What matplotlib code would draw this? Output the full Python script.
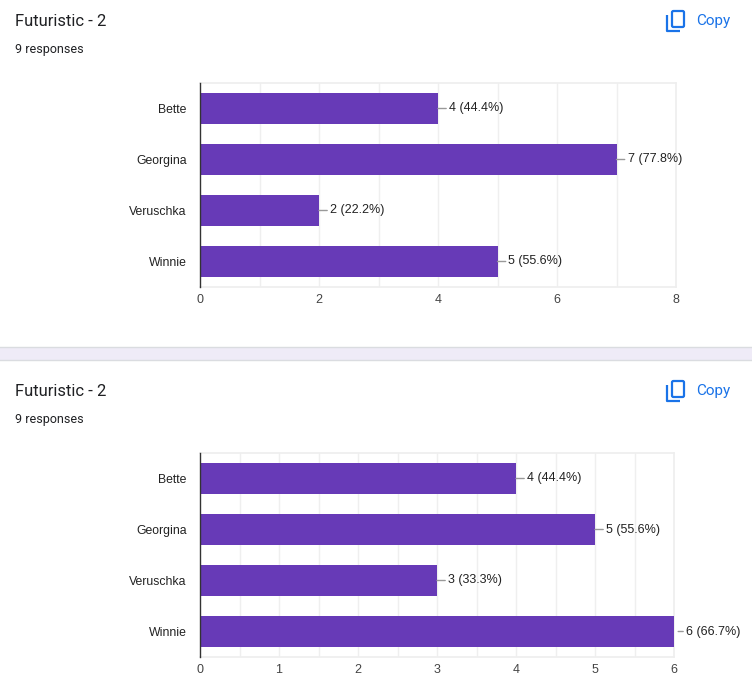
import matplotlib.pyplot as plt
from matplotlib.patches import Rectangle, FancyBboxPatch
from matplotlib.lines import Line2D

# Veriler
categories = ["Bette", "Georgina", "Veruschka", "Winnie"]
counts_top = [4, 7, 2, 5]
counts_bottom = [4, 5, 3, 6]
n_responses = 9
xmax_top = 8
xmax_bottom = 6

W, H = 752, 698
PURPLE = "#673AB7"
BLUE = "#1A73E8"
CHART_FONT = ["Liberation Sans", "DejaVu Sans"]
HEAD_FONT = ["Roboto", "DejaVu Sans"]

fig = plt.figure(figsize=(W / 100, H / 100), dpi=100)


def fx(px):
    return px / W


def fy(py):
    return 1 - py / H


def header(top):
    # başlık, yanıt sayısı ve "Copy" düğmesi
    fig.text(fx(15), fy(top + 22), "Futuristic - 2", fontsize=12, color="#202124",
             family=HEAD_FONT, va="center", ha="left")
    fig.text(fx(15), fy(top + 50), f"{n_responses} responses", fontsize=9, color="#202124",
             family=HEAD_FONT, va="center", ha="left")
    # kopyala ikonu
    fig.add_artist(Line2D([fx(667), fx(667), fx(680)],
                          [fy(top + 15), fy(top + 31), fy(top + 31)],
                          color=BLUE, lw=1.6, solid_capstyle="butt"))
    fig.add_artist(FancyBboxPatch((fx(672), fy(top + 27)), fx(12), (16 / H),
                                  boxstyle="round,pad=0,rounding_size=0.002",
                                  fill=False, edgecolor=BLUE, lw=1.6))
    fig.text(fx(696), fy(top + 21), "Copy", fontsize=11, color=BLUE,
             family=HEAD_FONT, va="center", ha="left")


def chart(top_px, bottom_px, right_px, values, xmax, grid_step):
    ax = fig.add_axes([fx(200), fy(bottom_px), fx(right_px - 200),
                       (bottom_px - top_px) / H])
    y = list(range(len(categories)))
    ax.barh(y, values, height=0.61, color=PURPLE, zorder=3)
    ax.set_xlim(0, xmax)
    ax.set_ylim(len(categories) - 0.5, -0.5)
    ax.set_yticks(y)
    ax.set_yticklabels(categories, family=CHART_FONT, fontsize=8.8, color="#222222")
    step = 2 if xmax == 8 else 1
    ticks = list(range(0, xmax + 1, step))
    ax.set_xticks(ticks)
    ax.set_xticklabels([str(t) for t in ticks], family=CHART_FONT, fontsize=9,
                       color="#444444")
    grid = [i * grid_step for i in range(1, int(xmax / grid_step))]
    for g in grid:
        ax.axvline(g, color="#EFEFEF", lw=1, zorder=1)
    ax.tick_params(axis="both", length=0)
    ax.tick_params(axis="y", pad=9.5)
    ax.tick_params(axis="x", pad=5)
    for s in ["top", "right", "bottom"]:
        ax.spines[s].set_color("#EEEEEE")
        ax.spines[s].set_linewidth(1.2)
    ax.spines["left"].set_color("#333333")
    ax.spines["left"].set_linewidth(1)
    ax.spines["left"].set_zorder(4)
    for i, v in enumerate(values):
        label = f"{v} ({v / n_responses * 100:.1f}%)"
        if v == xmax:
            off, sb = 12, 3
        else:
            off, sb = 11, 0
        ax.annotate(label, xy=(v, i), xytext=(off, 0), textcoords="offset pixels",
                    xycoords="data", ha="left", va="center", fontsize=9,
                    color="#222222", family=CHART_FONT, annotation_clip=False,
                    arrowprops=dict(arrowstyle="-", color="#999999", lw=1,
                                    relpos=(0, 0.5), shrinkA=0, shrinkB=sb))
    return ax


# üst panel
header(0)
chart(83, 287, 676, counts_top, xmax_top, 1)

# ayırıcı şerit
fig.add_artist(Rectangle((0, fy(360)), 1, 13 / H, transform=fig.transFigure,
                         facecolor="#EFEBF7", edgecolor="none"))
fig.add_artist(Line2D([0, 1], [fy(347), fy(347)], color="#DADCE0", lw=1))
fig.add_artist(Line2D([0, 1], [fy(360), fy(360)], color="#DADCE0", lw=1))

# alt panel
header(370)
chart(453, 657, 674, counts_bottom, xmax_bottom, 0.5)

plt.savefig("out.png", dpi=100)
